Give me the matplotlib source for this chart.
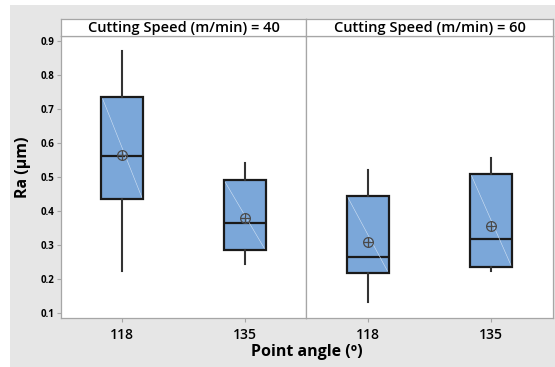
import matplotlib
matplotlib.use("Agg")
import matplotlib.pyplot as plt
from matplotlib.patches import Rectangle
import numpy as np

plt.rcParams['font.family'] = ['Open Sans', 'DejaVu Sans']

speeds = ["Cutting Speed (m/min) = 40", "Cutting Speed (m/min) = 60"]
angles = ["118", "135"]

# per panel, per angle: lower whisker, Q1, median, Q3, upper whisker, mean
whislo = [[0.223, 0.245], [0.132, 0.223]]
q1 = [[0.435, 0.285], [0.218, 0.235]]
med = [[0.562, 0.365], [0.265, 0.318]]
q3 = [[0.735, 0.490], [0.444, 0.509]]
whishi = [[0.870, 0.540], [0.520, 0.556]]
means = [[0.565, 0.380], [0.309, 0.356]]

yticks = [0.1, 0.2, 0.3, 0.4, 0.5, 0.6, 0.7, 0.8, 0.9]

box_color = '#7ba7d9'
spine_color = '#a6a6a6'

fig = plt.figure(figsize=(5.55, 3.67), dpi=100)
fig.patch.set_facecolor('white')
fig.patches.append(Rectangle((10/555, 0), 545/555, 1 - 5/367, transform=fig.transFigure,
                             facecolor='#e6e6e6', edgecolor='none', zorder=-10))

W, H = 555, 367
panels = [(61, 306), (306, 553)]
top, bottom = 36, 318
strip_top = 19

axes = []
for p, (x0, x1) in enumerate(panels):
    ax = fig.add_axes([x0/W, 1 - bottom/H, (x1 - x0)/W, (bottom - top)/H])
    ax.set_facecolor('white')
    pos = np.arange(1, len(angles) + 1)
    stats = []
    for i in range(len(angles)):
        stats.append(dict(whislo=whislo[p][i], q1=q1[p][i], med=med[p][i],
                          q3=q3[p][i], whishi=whishi[p][i], fliers=[]))
    ax.bxp(stats, positions=pos, widths=0.34, patch_artist=True, showcaps=False,
           boxprops=dict(facecolor=box_color, edgecolor='#1a1a1a', linewidth=1.6),
           medianprops=dict(color='#1a1a1a', linewidth=1.6),
           whiskerprops=dict(color='#333333', linewidth=1.5))
    # faint diagonal seen inside Minitab boxes
    for i in range(len(angles)):
        ax.plot([pos[i] - 0.16, pos[i] + 0.16], [q3[p][i] - 0.005, q1[p][i] + 0.005],
                color='#d2e2f4', lw=0.4, zorder=3)
    ax.plot(pos, means[p], 'o', ms=7, mfc='none', mec='#4a4a4a', mew=0.9, zorder=4)
    ax.plot(pos, means[p], '+', ms=7, mec='#4a4a4a', mew=0.9, zorder=4)
    ax.set_xlim(0.5, 2.5)
    ax.set_ylim(0.085, 0.915)
    ax.set_xticks(pos)
    ax.set_xticklabels(angles, fontsize=10, fontweight='semibold')
    ax.set_yticks(yticks)
    if p == 0:
        ax.set_yticklabels([f"{v:.1f}" for v in yticks], fontsize=7, fontweight='bold')
    else:
        ax.tick_params(axis='y', left=False, labelleft=False)
    ax.tick_params(axis='both', color=spine_color, length=3, width=0.8, pad=2)
    ax.tick_params(axis='x', pad=4)
    for s in ax.spines.values():
        s.set_color(spine_color)
        s.set_linewidth(0.9)
    # strip
    sax = fig.add_axes([x0/W, 1 - top/H, (x1 - x0)/W, (top - strip_top)/H])
    sax.set_facecolor('white')
    sax.set_xticks([])
    sax.set_yticks([])
    for s in sax.spines.values():
        s.set_color(spine_color)
        s.set_linewidth(0.9)
    sax.text(0.5, 0.45, speeds[p], ha='center', va='center', fontsize=10.5,
             fontweight='semibold', transform=sax.transAxes)
    axes.append(ax)

fig.text(23/W, 1 - 167/H, "Ra (µm)", rotation=90, ha='center', va='center',
         fontsize=11.5, fontweight='bold')
fig.text(307/W, 1 - 352/H, "Point angle (º)", ha='center', va='center',
         fontsize=11.5, fontweight='bold')

fig.savefig("out.png", dpi=100)
